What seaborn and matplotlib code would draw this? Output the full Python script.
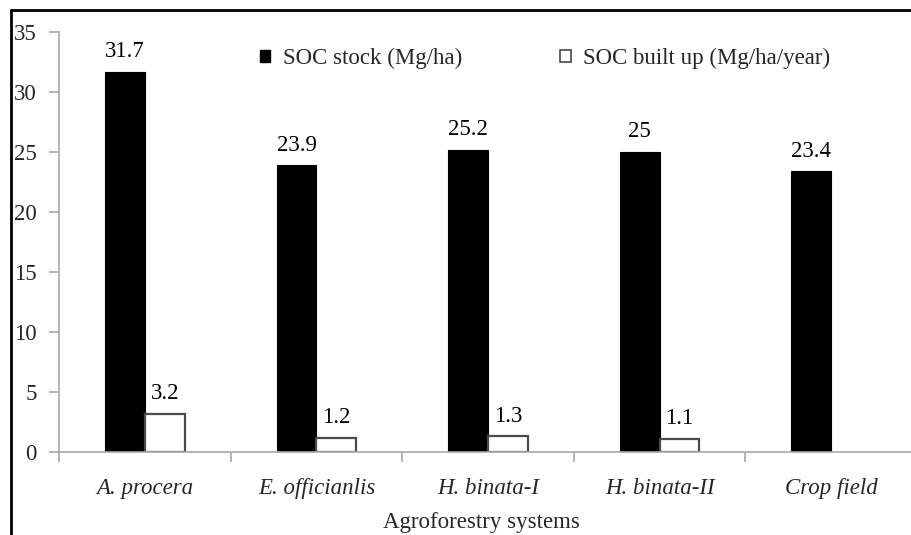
import numpy as np
import pandas as pd
import matplotlib
matplotlib.use("Agg")
import matplotlib.pyplot as plt
from matplotlib.lines import Line2D
import seaborn as sns

# Soil organic carbon by agroforestry system
categories = ["A. procera", "E. officianlis", "H. binata-I", "H. binata-II", "Crop field"]
soc_stock = [31.7, 23.9, 25.2, 25.0, 23.4]           # Mg/ha
soc_builtup = [3.2, 1.2, 1.3, 1.1, np.nan]           # Mg/ha/year (none for crop field)
series_names = ["SOC stock (Mg/ha)", "SOC built up (Mg/ha/year)"]
y_ticks = [0, 5, 10, 15, 20, 25, 30, 35]

df = pd.DataFrame({
    "system": categories * 2,
    "series": [series_names[0]] * len(categories) + [series_names[1]] * len(categories),
    "value": soc_stock + soc_builtup,
})

sns.set_style("white")
plt.rcParams["font.family"] = ["Liberation Serif", "DejaVu Serif"]

AXIS_GRAY = "#a8a8a8"

fig = plt.figure(figsize=(9.11, 5.35), dpi=100)
ax = fig.add_axes([0.0648, 0.1551, 0.9418, 0.785])

sns.barplot(data=df, x="system", y="value", hue="series", order=categories,
            hue_order=series_names, palette=["black", "white"], width=0.464,
            errorbar=None, saturation=1, ax=ax)

# outline styling for each series
for patch in ax.containers[0]:
    patch.set_edgecolor("black")
    patch.set_linewidth(0.8)
for patch in ax.containers[1]:
    patch.set_edgecolor("#4a4a4a")
    patch.set_linewidth(1.6)

# value labels above the bars
for cont in ax.containers:
    ax.bar_label(cont, fmt=lambda v: f"{v:g}", padding=7, fontsize=16.5, color="black")

# legend: small square keys in two columns above the bars
leg = ax.get_legend()
handles = list(leg.legend_handles)
labels = [t.get_text() for t in leg.texts]
leg.remove()
handles[0].set_edgecolor("black")
handles[1].set_edgecolor("#4a4a4a")
handles[1].set_linewidth(1.2)
fig.legend(handles, labels, ncol=2, frameon=False, loc="center left",
           bbox_to_anchor=(0.285, 0.89), borderpad=0, borderaxespad=0,
           handlelength=0.45, handleheight=0.45, handletextpad=0.55,
           columnspacing=4.3, fontsize=16.5)

# axes
ax.set_xlim(-0.5, len(categories) - 0.5)
ax.set_ylim(0, 35)
ax.set_yticks(y_ticks)
ax.set_yticklabels([str(t) for t in y_ticks])
ax.set_xticks(range(len(categories)))
ax.set_xticklabels(categories, fontstyle="italic")
ax.set_xticks(np.arange(-0.5, len(categories), 1.0), minor=True)
ax.set_ylabel("")
ax.set_xlabel("Agroforestry systems", fontsize=16.5)
ax.xaxis.set_label_coords(0.492, -0.143)

for side in ["top", "right"]:
    ax.spines[side].set_visible(False)
for side in ["left", "bottom"]:
    ax.spines[side].set_color(AXIS_GRAY)
    ax.spines[side].set_linewidth(1.2)

ax.tick_params(axis="y", which="major", direction="out", length=7, width=1.2,
               color=AXIS_GRAY, labelsize=16.5, pad=9, left=True)
ax.tick_params(axis="x", which="major", length=0, labelsize=16.5, pad=19)
ax.tick_params(axis="x", which="minor", direction="out", length=7, width=1.2,
               color=AXIS_GRAY, bottom=True)

# outer frame lines along the top and left edges of the figure
fig.add_artist(Line2D([0.012, 1.0], [0.981, 0.981], transform=fig.transFigure,
                      color="black", linewidth=2.0))
fig.add_artist(Line2D([0.012, 0.012], [0.0, 0.981], transform=fig.transFigure,
                      color="black", linewidth=2.0))

fig.savefig("out.png", dpi=100, facecolor="white")
